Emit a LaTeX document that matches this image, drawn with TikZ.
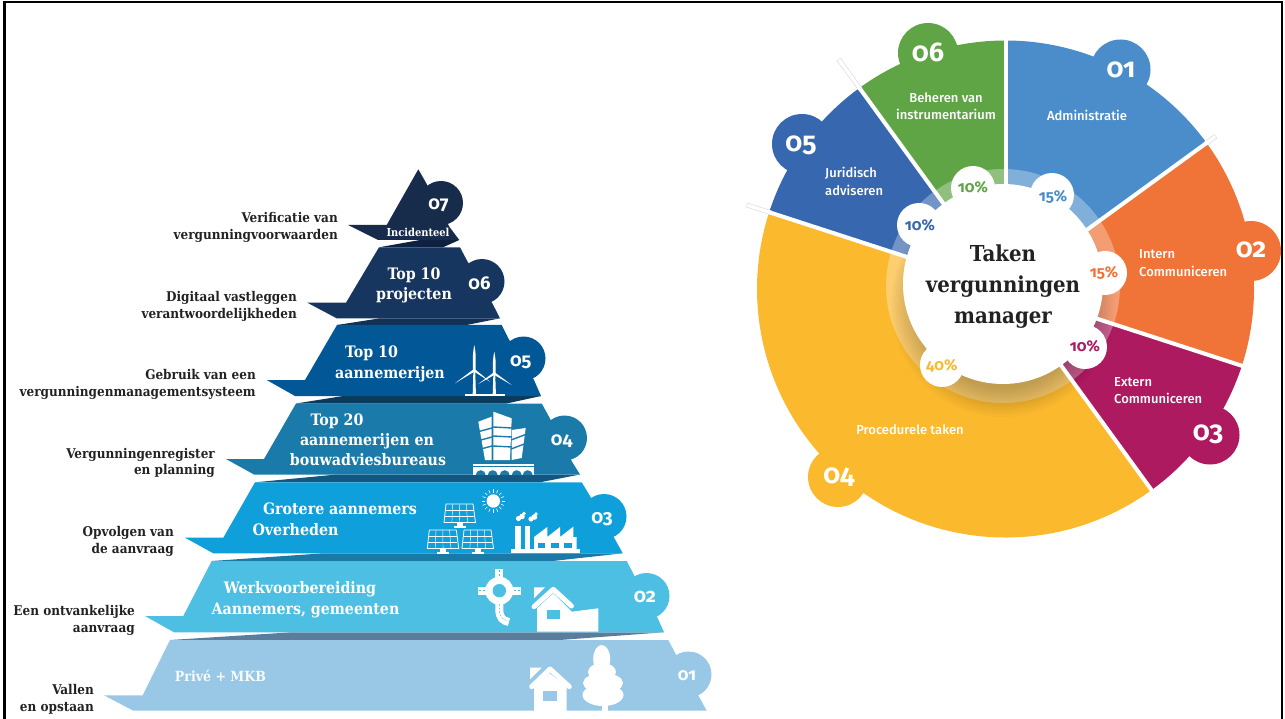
\documentclass[tikz,border=0pt]{standalone}
\usepackage{fontspec}
\setmainfont{DejaVu Serif}
\newfontfamily\slab{DejaVu Serif Condensed}
\newfontfamily\sansf{Fira Sans Medium}[Numbers=OldStyle]
\newfontfamily\numf{Fira Sans}[Numbers=OldStyle]
\definecolor{cA}{HTML}{4A8DCA}
\definecolor{cB}{HTML}{F07337}
\definecolor{cC}{HTML}{AD1A60}
\definecolor{cD}{HTML}{FBB92E}
\definecolor{cE}{HTML}{3767AF}
\definecolor{cF}{HTML}{5FA545}
\definecolor{tG}{HTML}{172B4B}
\definecolor{tF}{HTML}{16365F}
\definecolor{tE}{HTML}{025796}
\definecolor{tD}{HTML}{1A7AAA}
\definecolor{tC}{HTML}{0F9FDB}
\definecolor{tB}{HTML}{4DBFE3}
\definecolor{tA}{HTML}{98C8E6}
\definecolor{fG}{HTML}{0F2140}
\definecolor{fF}{HTML}{123155}
\definecolor{fE}{HTML}{0A3B5B}
\definecolor{fD}{HTML}{13567F}
\definecolor{fC}{HTML}{1B79A7}
\definecolor{fB}{HTML}{5B7C9B}
\definecolor{ink}{HTML}{222222}
\tikzset{
  lab/.style={font=\slab\bfseries\fontsize{13.4}{14}\selectfont,text=ink,anchor=base east,inner sep=0pt},
  tiertext/.style={font=\slab\bfseries\fontsize{15.8}{16}\selectfont,text=white,inner sep=0pt,anchor=base},
  tiernum/.style={font=\numf\bfseries\fontsize{18.5}{19}\selectfont,text=white,inner sep=0pt,anchor=base},
  pienum/.style={font=\numf\bfseries\fontsize{27}{27}\selectfont,text=white,inner sep=0pt,anchor=base},
  pietext/.style={font=\sansf\fontsize{13}{14}\selectfont,text=white,inner sep=0pt,anchor=base},
  pieleft/.style={pietext,anchor=base west},
  pct/.style={font=\numf\bfseries\fontsize{15.5}{16}\selectfont,inner sep=0pt,anchor=base},
  centre/.style={font=\slab\bfseries\fontsize{22}{22}\selectfont,text=ink,inner sep=0pt,anchor=base},
  cutline/.style={line width=4pt,draw=white}
}
\begin{document}
\begin{tikzpicture}[x=1pt,y=-1pt]
\useasboundingbox (0,0) rectangle (1285,719);
% frame
\draw[line width=2.5pt,black] (4.5,725) -- (4.5,2) -- (1282,2) -- (1282,725);

% ---------- pie ----------
\coordinate (P) at (1005.5,289);
\foreach \col/\a/\b in {cA/90/36,cB/36/-18,cC/-18/-54,cD/-54/-198,cE/-198/-234,cF/-234/-270}{
  \fill[\col] (P) -- ++({-\a}:248.5) arc[start angle={-\a},end angle={-\b},radius=248.5] -- cycle;
}
\fill[cA] (1120.5,69.5) circle (30);
\fill[cB] (1251,251) circle (30);
\fill[cC] (1210,435) circle (29.5);
\fill[cD] (838,477) circle (30);
\fill[cE] (802,144) circle (30);
\fill[cF] (928,53) circle (30);
% ring
\fill[white,opacity=.3] (1003,286) circle (117);
\foreach \r in {84,86,...,112}{\fill[black,opacity=.015] (1003,305) circle (\r);}
% extension stubs
\foreach \a/\e in {36/260,162/272,126/284}{
  \draw[line width=4.6pt,draw=black!18] (P) ++({-\a}:247) -- ++({-\a}:{\e-247});
  \draw[line width=3.6pt,draw=white] (P) ++({-\a}:246) -- ++({-\a}:{\e-246-.4});
}
% dividers
\foreach \a in {90,36,-18,-54,162,126}{
  \draw[cutline] (P) -- ++({-\a}:250);
}
% centre disc and petals
\fill[white] (1003,284) circle (100);
\foreach \x/\y in {1052/195,1105/273,1085/347,942/365,919/225,973/188}{
  \fill[white] (\x,\y) circle (22);
}
\node[centre] (t1) at (1003,262) {Taken};
\node[centre] (t2) at (1003,293) {vergunningen};
\node[centre] (t3) at (1003,323.5) {manager};
\node[pct,text=cA] (p1) at (1053,201.5) {15\%};
\node[pct,text=cB] (p2) at (1104,278) {15\%};
\node[pct,text=cC] (p3) at (1085,351.5) {10\%};
\node[pct,text=cD] (p4) at (941.7,370) {40\%};
\node[pct,text=cE] (p5) at (920,230.5) {10\%};
\node[pct,text=cF] (p6) at (973,192.3) {10\%};
\node[pienum] (n1) at (1121,78) {01};
\node[pienum] (n2) at (1251,258) {02};
\node[pienum] (n3) at (1208,440) {03};
\node[pienum] (n4) at (839,483) {04};
\node[pienum] (n5) at (801,151.7) {05};
\node[pienum] (n6) at (928,61.7) {06};
\node[pietext] (s1) at (1087,121) {Administratie};
\node[pietext] (s6a) at (946,102.3) {Beheren van};
\node[pietext] (s6b) at (946,120) {instrumentarium};
\node[pieleft] (s5a) at (825,177.7) {Juridisch};
\node[pieleft] (s5b) at (825,195.7) {adviseren};
\node[pieleft] (s2a) at (1139,259) {Intern};
\node[pieleft] (s2b) at (1139,276.7) {Communiceren};
\node[pieleft] (s3a) at (1114,386) {Extern};
\node[pieleft] (s3b) at (1114,403.3) {Communiceren};
\node[pietext] (s4) at (910,434.3) {Procedurele taken};

% ---------- pyramid ----------
% under-flaps
\fill[fG] (379,247.3) -- (420,240) -- (459.3,240) -- (443,247.3) -- cycle;
\fill[fF] (337,325) -- (380,318.3) -- (500,318.3) -- (466.7,325) -- cycle;
\fill[fE] (296,403.5) -- (343,396) -- (541,396) -- (506.7,403.5) -- cycle;
\fill[fD] (255,482.3) -- (336.7,474.5) -- (580,474.5) -- (540,482.3) -- cycle;
\fill[fC] (211.7,561) -- (323.3,553.3) -- (622.7,553.3) -- (553,561) -- cycle;
\fill[fB] (170,640) -- (291.7,632.3) -- (664,632.3) -- (560,640) -- cycle;
% tier 7
\fill[tG] (418.3,169.3) -- (426,182.7) -- (449.3,226.7) -- (459.3,240) -- (378,240) -- (348,225) -- (386.7,225) -- cycle;
\fill[tG] (441,203) circle (22);
% tier 6
\fill[tF] (379,247.3) -- (460,247.3) -- (466.7,260) -- (492.7,304) -- (500,318.3) -- (336.7,318.3) -- (307.3,302.7) -- (346,302.7) -- cycle;
\fill[tF] (482,281.5) circle (22.5);
% tier 5
\fill[tE] (337,325) -- (501.7,325) -- (508.3,338.3) -- (534,380) -- (541,396) -- (295,396) -- (266.7,380) -- (305,380) -- cycle;
\fill[tE] (523.5,358.5) circle (22);
% tier 4
\fill[tD] (296,403.5) -- (541.7,403.5) -- (549,416.7) -- (572,461.7) -- (580,474.5) -- (254,474.5) -- (226,459) -- (264,459) -- cycle;
\fill[tD] (564.5,438) circle (22.5);
% tier 3
\fill[tC] (255,482.3) -- (581.7,482.3) -- (590,496) -- (615,539.3) -- (622.7,553.3) -- (213.3,553.3) -- (185,537.7) -- (223.3,537.7) -- cycle;
\fill[tC] (604,516.5) circle (22.5);
% tier 2
\fill[tB] (211.7,561) -- (626.7,561) -- (634,575) -- (657.3,617.3) -- (664,632.3) -- (174,632.3) -- (145,616) -- (183.3,616) -- cycle;
\fill[tB] (646.5,596) circle (23);
% tier 1
\fill[tA] (170,640) -- (668.3,640) -- (675,652.7) -- (699.3,697.3) -- (706.7,710.7) -- (133.3,710.7) -- (104,695.3) -- (142.7,695.3) -- cycle;
\fill[tA] (688.5,674.5) circle (23);

% left labels
\node[lab] (l7a) at (338,222.7) {Verificatie van};
\node[lab] (l7b) at (338,239.3) {vergunningvoorwaarden};
\node[lab] (l6a) at (297,301.7) {Digitaal vastleggen};
\node[lab] (l6b) at (297,318.3) {verantwoordelijkheden};
\node[lab] (l5a) at (256,379.3) {Gebruik van een};
\node[lab] (l5b) at (256,396) {vergunningenmanagementsysteem};
\node[lab] (l4a) at (215,458) {Vergunningenregister};
\node[lab] (l4b) at (215,474.7) {en planning};
\node[lab] (l3a) at (174,536) {Opvolgen van};
\node[lab] (l3b) at (174,553) {de aanvraag};
\node[lab] (l2a) at (135,615) {Een ontvankelijke};
\node[lab] (l2b) at (135,632) {aanvraag};
\node[lab] (l1a) at (94,694) {Vallen};
\node[lab] (l1b) at (94,711) {en opstaan};

% tier texts
\node[tiertext,font=\slab\bfseries\fontsize{11}{11}\selectfont] (x7) at (418,236.5) {Incidenteel};
\node[tiertext] (x6a) at (414,280) {Top 10};
\node[tiertext] (x6b) at (414,300) {projecten};
\node[tiertext] (x5a) at (371.5,357) {Top 10};
\node[tiertext] (x5b) at (390,378) {aannemerijen};
\node[tiertext] (x4a) at (337,425) {Top 20};
\node[tiertext] (x4b) at (367,445) {aannemerijen en};
\node[tiertext] (x4c) at (368,465.7) {bouwadviesbureaus};
\node[tiertext] (x3a) at (340,514.3) {Grotere aannemers};
\node[tiertext] (x3b) at (295.5,535) {Overheden};
\node[tiertext] (x2a) at (300,593.3) {Werkvoorbereiding};
\node[tiertext] (x2b) at (305.5,614) {Aannemers, gemeenten};
\node[tiertext,font=\slab\bfseries\fontsize{14}{15}\selectfont,text=white!92!tA] (x1) at (220.5,681.7) {Privé + MKB};
\node[tiernum] (m7) at (438.5,210) {07};
\node[tiernum] (m6) at (479.5,289.3) {06};
\node[tiernum] (m5) at (520.7,366.7) {05};
\node[tiernum] (m4) at (561.7,445) {04};
\node[tiernum,font=\numf\bfseries\fontsize{19}{19}\selectfont] (m3) at (602,523.3) {03};
\node[tiernum,font=\numf\bfseries\fontsize{19.5}{20}\selectfont] (m2) at (645,602.3) {02};
\node[tiernum,font=\numf\bfseries\fontsize{17}{17}\selectfont] (m1) at (687,680.7) {01};

% wind turbines
\foreach \tx/\ty/\up/\lx/\ly/\rx/\ry in {474.3/370/345/455/383.3/490/381.7,494.3/373.3/351.7/478.3/384/511.7/385}{
  \fill[white] (\tx-1.6,394) -- (\tx-.9,\ty) -- (\tx+.9,\ty) -- (\tx+1.6,394) -- cycle;
  \fill[white] (\tx-1.3,\ty) .. controls (\tx-1.5,{\up+8}) .. (\tx,\up) .. controls (\tx+1.5,{\up+8}) .. (\tx+1.3,\ty) -- cycle;
  \fill[white] (\tx,\ty-1.3) -- (\lx,\ly) -- (\tx+.6,\ty+1.3) -- cycle;
  \fill[white] (\tx,\ty-1.3) -- (\rx,\ry) -- (\tx-.6,\ty+1.3) -- cycle;
}
\fill[white] (465,393.5) rectangle (505,396);

% building and bridge
\fill[white] (478.3,421.7) -- (491.7,416.7) -- (491.7,460) -- (485,460) -- cycle;
\fill[white] (493.3,411.7) -- (511.7,418.3) -- (510,460) -- (493.3,460) -- cycle;
\fill[white] (511.7,430) -- (525.7,428) -- (521.7,458) -- (511.7,460) -- cycle;
\foreach \a/\b in {428/425,437/434,446/443}{ \draw[tD,line width=1.4pt] (477,\a+4) -- (492,\b+3); }
\foreach \a/\b in {427/428,436/437,446/447}{ \draw[tD,line width=1.4pt] (493,\a) -- (512,\b); }
\foreach \a/\b in {440/434,449/443}{ \draw[tD,line width=1.4pt] (511,\a) -- (527,\b); }
\fill[white] (473.3,464) rectangle (534,475);
\draw[tD,line width=.8pt] (473.3,466.6) -- (534,466.6);
\foreach \cx in {480.7,492.7,504.7,516.7,527.7}{ \fill[tD] (\cx-5,475.2) arc[start angle=180,end angle=360,radius=5] -- cycle; }

% solar panels
\foreach \px/\py in {446/504,429.3/530,464/530}{
  \begin{scope}[shift={(\px,\py)}]
    \draw[white,line width=.8pt,line join=round] (0,0) -- (27,0) -- (29.5,18.5) -- (-2,18.5) -- cycle;
    \foreach \t in {.25,.5,.75}{ \draw[white,line width=.45pt] ({27*\t},0) -- ({-2+31.5*\t},18.5); }
    \foreach \t/\d in {.33/.9,.66/1.7}{ \draw[white,line width=.45pt] (-\d*.6,{18.5*\t}) -- (27+\d*.7,{18.5*\t}); }
    \fill[white] (10.5,18.5) rectangle (16.5,21.5);
    \fill[white] (7.5,21.5) rectangle (19.5,23.5);
  \end{scope}
}
% sun
\fill[white] (493.3,501) circle (6.7);
\foreach \a in {0,22.5,...,337.5}{ \draw[white,line width=.6pt] (493.3,501) ++(\a:8.4) -- ++(\a:3.2); }

% factory
\fill[white] (511,549.3) rectangle (580,553.3);
\fill[white] (515,526) rectangle (520.7,549.5);
\fill[white] (525,526) rectangle (530,549.5);
\fill[white] (534,549.5) -- (534,537) -- (547.3,527) -- (547.3,537) -- (560,527) -- (560,537) -- (573.3,526.7) -- (573.3,537) -- (576.7,537) -- (576.7,549.5) -- cycle;
\fill[tC] (538.3,543.3) rectangle (545,548.3);
\fill[tC] (551,543.3) rectangle (559,548.3);
\fill[tC] (564.3,543.3) rectangle (572.3,548.3);
\fill[white] (518.5,518.5) circle (2.6) (522,516.5) circle (2.8) (524,513.5) circle (1.9);
\fill[white] (531,519) circle (2.6) (534.5,517) circle (2.8) (536,514) circle (1.9);

% roundabout
\draw[white,line width=8pt] (478,590.7) -- (520.7,590.7);
\draw[white,line width=8pt] (499.3,569) -- (499.3,590);
\draw[white,line width=8pt] (499.3,600) -- (499.3,609) .. controls (499.3,618) and (503,621) .. (509,622);
\fill[white] (499.3,590.7) circle (14);
\fill[tB] (499.3,590.7) circle (6.7);
\draw[tB,line width=.5pt,dash pattern=on 2pt off 1.5pt] (479,590.7) -- (485,590.7) (514,590.7) -- (520,590.7) (499.3,570) -- (499.3,577);
\draw[tB,line width=.5pt,dash pattern=on 2pt off 1.5pt] (499.3,604) -- (499.3,609) .. controls (499.3,617) and (503,620) .. (508.5,621);

% house with shed
\fill[white] (534,587.3) -- (545,587.3) -- (534,598.3) -- cycle;
\fill[white] (537,608.3) -- (553.3,593.3) -- (571.7,611.7) -- (598.3,608.3) -- (598.3,631.7) -- (537,631.7) -- cycle;
\draw[white,line width=5pt,line cap=round,line join=round] (534,606.7) -- (553.3,589.3) -- (571.5,606);
\fill[tB] (546.7,610) rectangle (560,619.3);

% house, tier 1
\fill[white] (530,667.7) -- (541.7,667.7) -- (530,679.3) -- cycle;
\fill[white] (534,687) -- (549.6,673.3) -- (566.7,686.7) -- (566.7,711.7) -- (534,711.7) -- cycle;
\draw[white,line width=5pt,line cap=round,line join=round] (531.7,686.7) -- (550,669) -- (569.3,686.7);
\fill[tA] (543.3,690.7) rectangle (557.3,700.7);

% tree
\fill[white] (601.7,703) rectangle (608.3,711.7);
\fill[white] (601.7,659) ellipse (8.5 and 14);
\fill[white] (602,672) ellipse (14 and 9);
\fill[white] (603,683) ellipse (20 and 10);
\fill[white] (603,695) ellipse (20.5 and 11);
\end{tikzpicture}
\end{document}
